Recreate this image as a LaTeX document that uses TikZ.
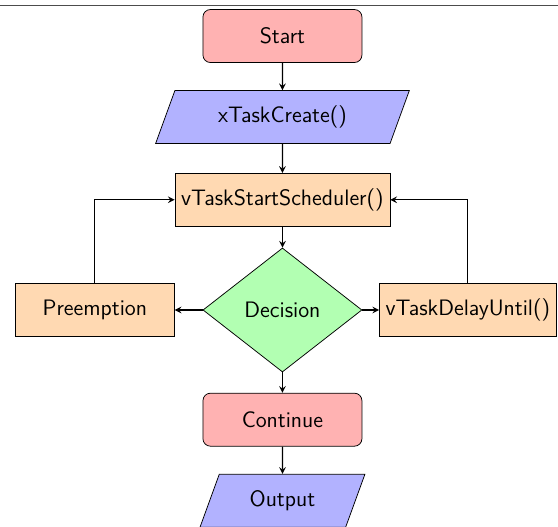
\documentclass[tikz,border=0pt]{standalone}
\usepackage{tikz}
\usetikzlibrary{shapes.geometric,arrows.meta}

\tikzset{
	startstop/.style={rectangle, rounded corners, minimum width=3cm, minimum height=1cm, text centered, draw=black, fill=red!30, font=\sffamily\large},
	io/.style={trapezium, trapezium left angle=70, trapezium right angle=110, minimum width=3cm, minimum height=1cm, text centered, draw=black, fill=blue!30, font=\sffamily\large},
	process/.style={rectangle, minimum width=3cm, minimum height=1cm, text centered, draw=black, fill=orange!30, font=\sffamily\large},
	decision/.style={diamond, minimum width=3cm, minimum height=2.34cm, inner sep=0pt, text centered, draw=black, fill=green!30, font=\sffamily\large},
	arrow/.style={semithick, ->, >=stealth}
}

\begin{document}
\begin{tikzpicture}
		%%%%% START %%%%%
		
		\useasboundingbox (0, 0) rectangle (10.53, -9.94);
		\draw[line width=0.2mm, color=black!70] (0, -0.1) -- (10.53, -0.1);
		
		\node[startstop] (start) at (5.33, -0.68) {Start};
		\node[io] (create) at (5.33, -2.21) {xTaskCreate()};
		\node[process] (sched) at (5.33, -3.77) {vTaskStartScheduler()};
		
		\node[decision] (dec) at (5.33, -5.85) {Decision};
		\node[process] (pre) at (1.79, -5.85) {Preemption};
		\node[process] (delay) at (8.83, -5.85) {vTaskDelayUntil()};
		
		\node[startstop] (cont) at (5.33, -7.92) {Continue};
		\node[io] (out) at (5.33, -9.45) {Output};
		
		\draw[arrow] (start) -- (create);
		\draw[arrow] (create) -- (sched);
		\draw[arrow] (sched) -- (dec);
		\draw[arrow] (dec) -- (pre);
		\draw[arrow] (dec) -- (delay);
		\draw[arrow] (pre.north) |- (sched.west);
		\draw[arrow] (delay.north) |- (sched.east);
		\draw[arrow] (dec) -- (cont);
		\draw[arrow] (cont) -- (out);
		
		%%%%% END %%%%%
	\end{tikzpicture}
\end{document}
